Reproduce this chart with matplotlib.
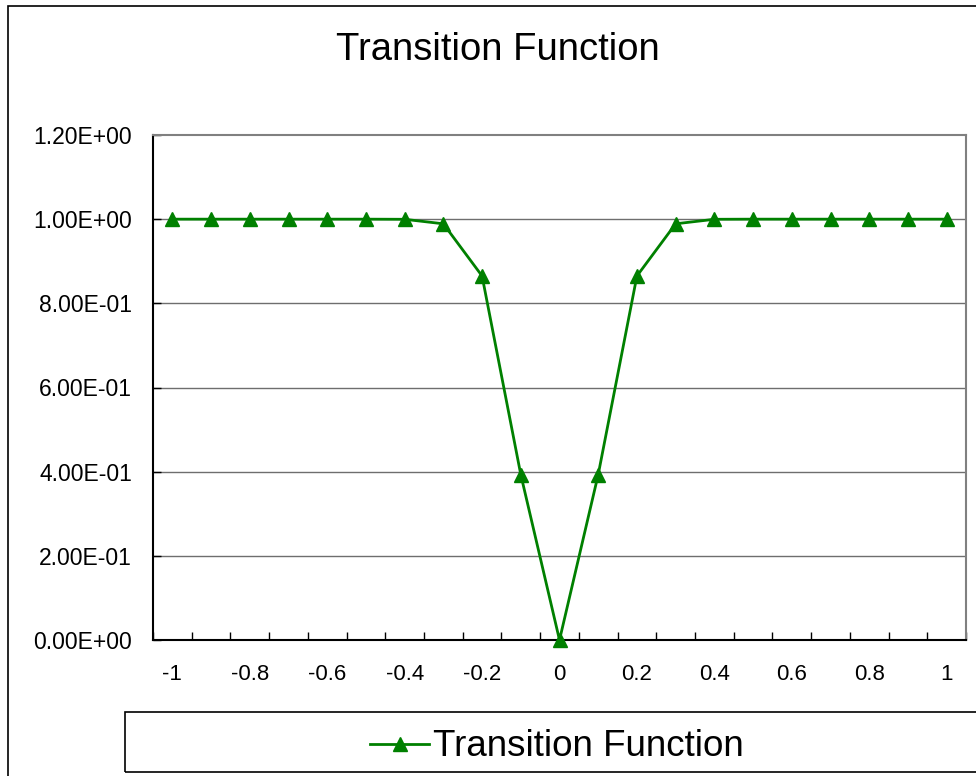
import matplotlib
matplotlib.use("Agg")
import matplotlib.pyplot as plt
from matplotlib.patches import Rectangle
from matplotlib.ticker import FixedLocator

plt.rcParams['font.family'] = ['Liberation Sans', 'DejaVu Sans']

# --- data ---
x_vals = [-1.0, -0.9, -0.8, -0.7, -0.6, -0.5, -0.4, -0.3, -0.2, -0.1, 0.0,
          0.1, 0.2, 0.3, 0.4, 0.5, 0.6, 0.7, 0.8, 0.9, 1.0]
y_vals = [1.0, 1.0, 1.0, 1.0, 1.0, 1.0, 0.9997, 0.989, 0.865, 0.393, 0.0,
          0.393, 0.865, 0.989, 0.9997, 1.0, 1.0, 1.0, 1.0, 1.0, 1.0]
x_ticks = [-1.0, -0.8, -0.6, -0.4, -0.2, 0.0, 0.2, 0.4, 0.6, 0.8, 1.0]
x_tick_labels = ['-1', '-0.8', '-0.6', '-0.4', '-0.2', '0', '0.2', '0.4', '0.6', '0.8', '1']
y_ticks = [0.0, 0.2, 0.4, 0.6, 0.8, 1.0, 1.2]
y_tick_labels = ['0.00E+00', '2.00E-01', '4.00E-01', '6.00E-01', '8.00E-01', '1.00E+00', '1.20E+00']
series_name = 'Transition Function'

W, H = 976, 776
fig = plt.figure(figsize=(W / 100, H / 100), dpi=100)
fig.patch.set_facecolor('white')

# outer chart border (runs off the right / bottom edge like the reference)
fig.add_artist(Rectangle((8 / W, -0.05), 1.1, 1 - 6 / H + 0.05, transform=fig.transFigure,
                         fill=False, edgecolor='black', linewidth=1.2))

ax = fig.add_axes([153 / W, 1 - 640 / H, (966 - 153) / W, (640 - 135) / H])

ax.plot(x_vals, y_vals, color='#008000', linewidth=2.0, marker='^', markersize=10,
        markerfacecolor='#008000', markeredgecolor='#008000', label=series_name,
        clip_on=False, zorder=3)

ax.set_xlim(-1.05, 1.05)
ax.set_ylim(0, 1.2)

ax.set_xticks(x_ticks)
ax.set_xticklabels(x_tick_labels, fontsize=16)
ax.xaxis.set_minor_locator(FixedLocator([-1.05 + 0.1 * k for k in range(22)]))
ax.tick_params(axis='x', which='major', length=0, pad=17)
ax.tick_params(axis='x', which='minor', direction='in', length=6, width=1, color='black')

ax.set_yticks(y_ticks)
ax.set_yticklabels(y_tick_labels, fontsize=16.5)
ax.tick_params(axis='y', direction='in', length=6, width=1, pad=15)

for v in y_ticks[1:-1]:
    ax.axhline(v, color='#6e6e6e', linewidth=1, zorder=1)

for s in ('left', 'bottom'):
    ax.spines[s].set_color('black')
    ax.spines[s].set_linewidth(1.5)
for s in ('top', 'right'):
    ax.spines[s].set_color('#808080')
    ax.spines[s].set_linewidth(1.5)

fig.text(498 / W, 1 - 50 / H, series_name, ha='center', va='center', fontsize=27.5)

# legend box, also running off the right edge
fig.add_artist(Rectangle((125 / W, 1 - 772 / H), 1.0, 60 / H, transform=fig.transFigure,
                         fill=False, edgecolor='black', linewidth=1.2))
handles, labels = ax.get_legend_handles_labels()
fig.legend(handles, labels, loc='center', bbox_to_anchor=(557 / W, 1 - 747 / H),
           frameon=False, fontsize=26.5, handlelength=1.6, handletextpad=0.1,
           borderaxespad=0)

fig.savefig('out.png', dpi=100)
